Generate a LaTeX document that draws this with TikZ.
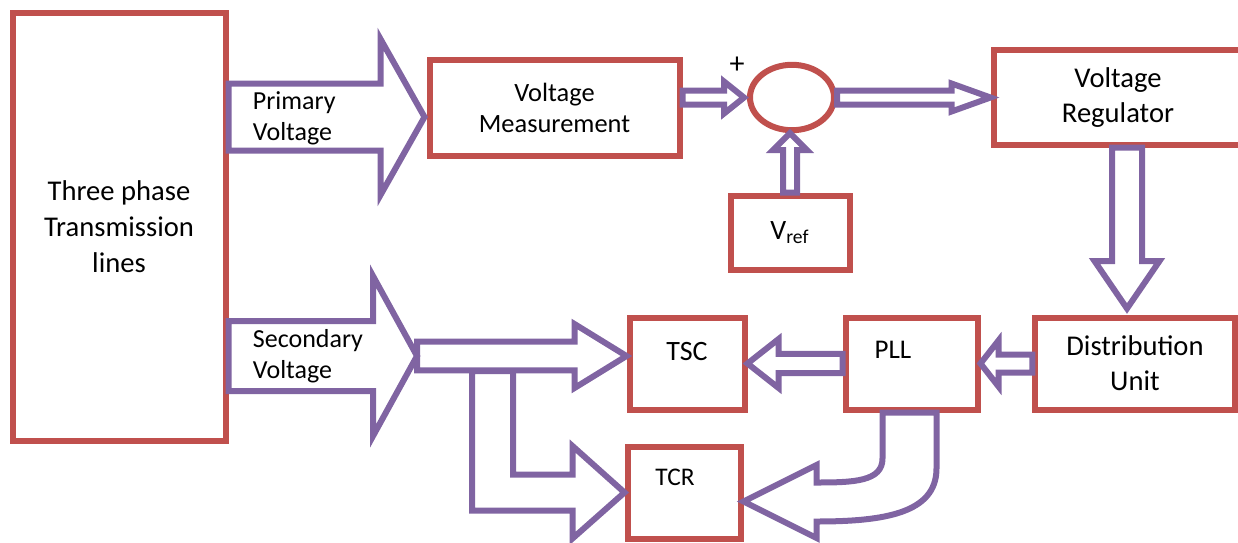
\documentclass[tikz,border=0pt]{standalone}
\usepackage{fontspec}
\setmainfont{Carlito}
\usetikzlibrary{calc,shapes.geometric}
\definecolor{red500}   {HTML}{C0504D}
\definecolor{purple500}{HTML}{8064A2}
\tikzset{
  blk/.style  ={draw=red500, line width=3pt, align=center, inner sep=0pt},
  sumj/.style ={ellipse, draw=red500, line width=3pt, inner sep=0pt},
  fat/.style  ={draw=purple500, line width=3pt, line join=miter},
  lbl/.style  ={font=\fontsize{13}{15.5}\selectfont, align=left, inner sep=0pt},
  big/.style  ={font=\fontsize{14.3}{17.5}\selectfont},
  mid/.style  ={font=\fontsize{13.2}{15.5}\selectfont}
}
% #1 style, #2 tail, #3 tip, #4 half shaft, #5 half head, #6 head length
\newcommand{\blockarrow}[6]{%
  \draw[fat,#1] let \p1=#2, \p2=#3,
    \n1={veclen(\x2-\x1,\y2-\y1)}, \n2={atan2(\y2-\y1,\x2-\x1)} in
    [shift={(\p1)}, rotate=\n2]
    (0pt,#4) -- (\n1-#6,#4) -- (\n1-#6,#5) -- (\n1,0pt) -- (\n1-#6,-#5)
    -- (\n1-#6,-#4) -- (0pt,-#4) -- cycle;}

\begin{document}
\begin{tikzpicture}[x=0.5pt, y=-0.5pt]
\useasboundingbox (0,0) rectangle (1238,542);

\node[blk, big, font=\fontsize{14.3}{18}\selectfont,
      minimum width=106.5pt, minimum height=214pt] (tpl) at (119,226.5)
  {Three phase\\Transmission\\lines};
\node[blk, mid, minimum width=125pt, minimum height=48pt] (vm) at (554.5,107.5)
  {Voltage\\Measurement};
\node[sumj, minimum width=42pt, minimum height=32.7pt] (sum) at (792,97.5) {};
\node[font=\fontsize{15}{15}\selectfont, inner sep=0pt] (plus)
  at ($(sum)+(-55,-32)$) {+};
\node[blk, big, minimum width=124.5pt, minimum height=47.5pt,
      text depth=2pt] (vr) at (1118,97)
  {Voltage\\Regulator};
\node[blk, font=\fontsize{14}{16}\selectfont,
      minimum width=59.5pt, minimum height=37pt] (vref) at (790,232.5)
  {V\textsubscript{ref}};
\node[blk, big, minimum width=99.75pt, minimum height=46pt] (du) at (1135,363.5)
  {Distribution\\Unit};
\node[blk, minimum width=66pt, minimum height=46pt,
      label={[lbl, font=\fontsize{13.5}{15}\selectfont, xshift=-9.25pt, yshift=6.75pt]center:PLL}]
  (pll) at (911.5,363.5) {};
\node[blk, minimum width=57.5pt, minimum height=46pt,
      label={[lbl, font=\fontsize{14}{15}\selectfont, yshift=5.75pt]center:TSC}]
  (tsc) at (687,363.5) {};
\node[blk, minimum width=56.5pt, minimum height=46pt,
      label={[lbl, font=\fontsize{12.7}{15}\selectfont, xshift=-4.5pt, yshift=7.75pt]center:TCR}]
  (tcr) at (684,492.5) {};
\coordinate (sv) at (417,356);

\blockarrow{}{($(tpl.east |- vm.west)+(0,9.5)$)}{($(vm.west)+(-2,9.5)$)}{16.75pt}{39pt}{22pt}
\blockarrow{}{(tpl.east |- sv)}{(sv)}{17.5pt}{40pt}{22pt}
\blockarrow{}{(sv)}{(tsc.west |- sv)}{7.2pt}{16pt}{26pt}
\blockarrow{}{(vm.east |- sum.west)}{($(sum.west)+(-3,0)$)}{3.5pt}{8pt}{10pt}
\blockarrow{}{(sum.east)}{(vr.west |- sum.east)}{3.5pt}{7pt}{19.5pt}
\blockarrow{}{(vref.north)}{(vref.north |- sum.south)}{3.5pt}{8.5pt}{8.5pt}
\blockarrow{}{($(vr.south)+(9,0)$)}{($(du.north)+(-8,-6)$)}{7.5pt}{16.25pt}{23.75pt}
\blockarrow{}{(du.west)}{(pll.east)}{4.5pt}{11.5pt}{9pt}
\blockarrow{}{(pll.west)}{(tsc.east)}{4.8pt}{12.2pt}{15.5pt}

\node[lbl, anchor=west] (pvtxt) at ($(tpl.east |- vm.west)+(24,11)$) {Primary\\Voltage};
\node[lbl, anchor=west] (svtxt) at ($(tpl.east |- sv)+(24,0)$) {Secondary\\Voltage};

\draw[fat] ($(sv)+(55,15)$) |- ($(tcr.west)+(-52,18)$) -- ++(0,28) -- (tcr.west)
  -- ++(-52,-46.5) -- ++(0,28.5) -| ($(sv)+(96,15)$) -- cycle;
\draw[fat] ($(pll.south)+(-29,0)$) -- ++(0,46)
  .. controls +(0,23) and +(37,0) .. ($(tcr.east)+(73,-10)$)
  -- ++(0,-17.5) -- ($(tcr.east)+(0,9)$) -- ++(73,36.5) -- ++(0,-16.5)
  .. controls +(67,0) and +(0,45) .. ($(pll.south)+(25,56)$)
  -- ($(pll.south)+(25,0)$) -- cycle;
\end{tikzpicture}
\end{document}
